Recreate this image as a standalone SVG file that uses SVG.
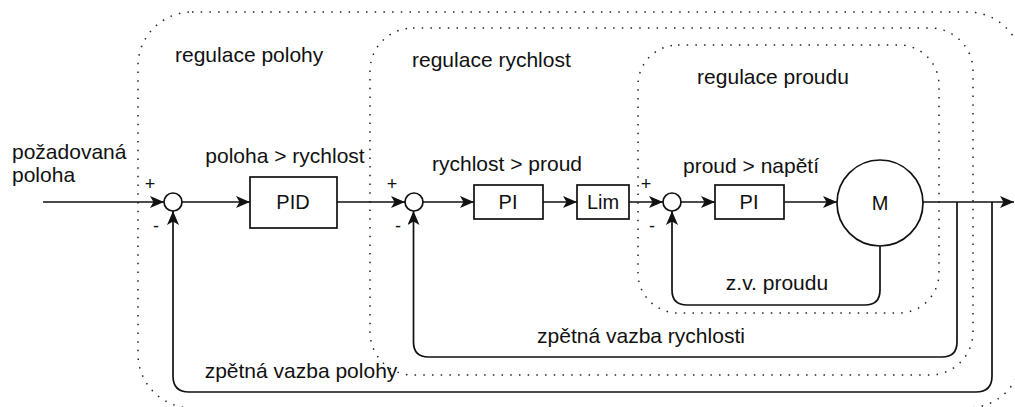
<svg xmlns="http://www.w3.org/2000/svg" width="1015" height="407" viewBox="0 0 1015 407">
<style>
text{font-family:"Liberation Sans",Arial,sans-serif;fill:#111}
.lbl{font-size:21px}
.blk{font-size:20px;text-anchor:middle}
.sgn{font-size:18px;text-anchor:middle}
.grp{fill:none;stroke:#222;stroke-width:1.5;stroke-dasharray:1.5 7.2}
.box{fill:#fff;stroke:#111;stroke-width:1.7}
.wire{fill:none;stroke:#111;stroke-width:1.7}
</style>
<defs>
<marker id="arr" markerUnits="userSpaceOnUse" markerWidth="16" markerHeight="13" refX="14" refY="6" orient="auto">
<path d="M0,0 L14,6 L0,12 L3.5,6 z" fill="#111"/>
</marker>
</defs>
<rect width="1015" height="407" fill="#fff"/>
<g id="groups">
<g id="reg-polohy"><rect class="grp" x="138" y="12" width="884" height="396" rx="54"/><text class="lbl" x="175" y="62">regulace polohy</text></g>
<g id="reg-rychlost"><rect class="grp" x="370" y="28" width="603" height="347" rx="43"/><text class="lbl" x="412" y="67">regulace rychlost</text></g>
<g id="reg-proudu"><rect class="grp" x="638" y="45" width="301" height="268" rx="40"/><text class="lbl" x="773" y="84" text-anchor="middle">regulace proudu</text></g>
</g>
<g id="connectors">
<path class="wire" d="M43,202 H164" marker-end="url(#arr)"/>
<path class="wire" d="M182,202 H250" marker-end="url(#arr)"/>
<path class="wire" d="M337,202 H405" marker-end="url(#arr)"/>
<path class="wire" d="M423,202 H474" marker-end="url(#arr)"/>
<path class="wire" d="M543,202 H577" marker-end="url(#arr)"/>
<path class="wire" d="M629,202 H663" marker-end="url(#arr)"/>
<path class="wire" d="M681,202 H715" marker-end="url(#arr)"/>
<path class="wire" d="M784,202 H837" marker-end="url(#arr)"/>
<path class="wire" d="M923,202 H1014" marker-end="url(#arr)"/>
<path class="wire" d="M992,202 V376 Q992,392 976,392 H189 Q173,392 173,376 V211" marker-end="url(#arr)"/>
<path class="wire" d="M957,202 V342 Q957,357 942,357 H428.5 Q413.5,357 413.5,342 V211" marker-end="url(#arr)"/>
<path class="wire" d="M880,246 V290 Q880,305 865,305 H687 Q672,305 672,290 V211" marker-end="url(#arr)"/>
<text class="lbl" x="301" y="378" text-anchor="middle">zpětná vazba polohy</text>
<text class="lbl" x="641" y="343" text-anchor="middle">zpětná vazba rychlosti</text>
<text class="lbl" x="777" y="290" text-anchor="middle">z.v. proudu</text>
</g>
<g id="input"><text class="lbl" x="12" y="159">požadovaná</text><text class="lbl" x="12" y="182">poloha</text></g>
<g id="sum1"><circle class="box" cx="173" cy="202" r="9"/><text class="sgn" x="150" y="190">+</text><text class="sgn" x="156" y="232">-</text></g>
<g id="pid"><rect class="box" x="250" y="177" width="87" height="51"/><text class="blk" x="293" y="209">PID</text><text class="lbl" x="285" y="163" text-anchor="middle">poloha &gt; rychlost</text></g>
<g id="sum2"><circle class="box" cx="414" cy="202" r="9"/><text class="sgn" x="392" y="190">+</text><text class="sgn" x="398" y="232">-</text></g>
<g id="pi1"><rect class="box" x="474" y="185" width="69" height="34"/><text class="blk" x="508" y="209">PI</text><text class="lbl" x="507" y="171" text-anchor="middle">rychlost &gt; proud</text></g>
<g id="lim"><rect class="box" x="577" y="185" width="52" height="34"/><text class="blk" x="603" y="209">Lim</text></g>
<g id="sum3"><circle class="box" cx="672" cy="202" r="9"/><text class="sgn" x="646" y="190">+</text><text class="sgn" x="652" y="232">-</text></g>
<g id="pi2"><rect class="box" x="715" y="185" width="69" height="34"/><text class="blk" x="749" y="209">PI</text><text class="lbl" x="751" y="173" text-anchor="middle">proud &gt; napětí</text></g>
<g id="motor"><circle class="box" cx="880" cy="203" r="43"/><text class="blk" x="880" y="210">M</text></g>
</svg>
